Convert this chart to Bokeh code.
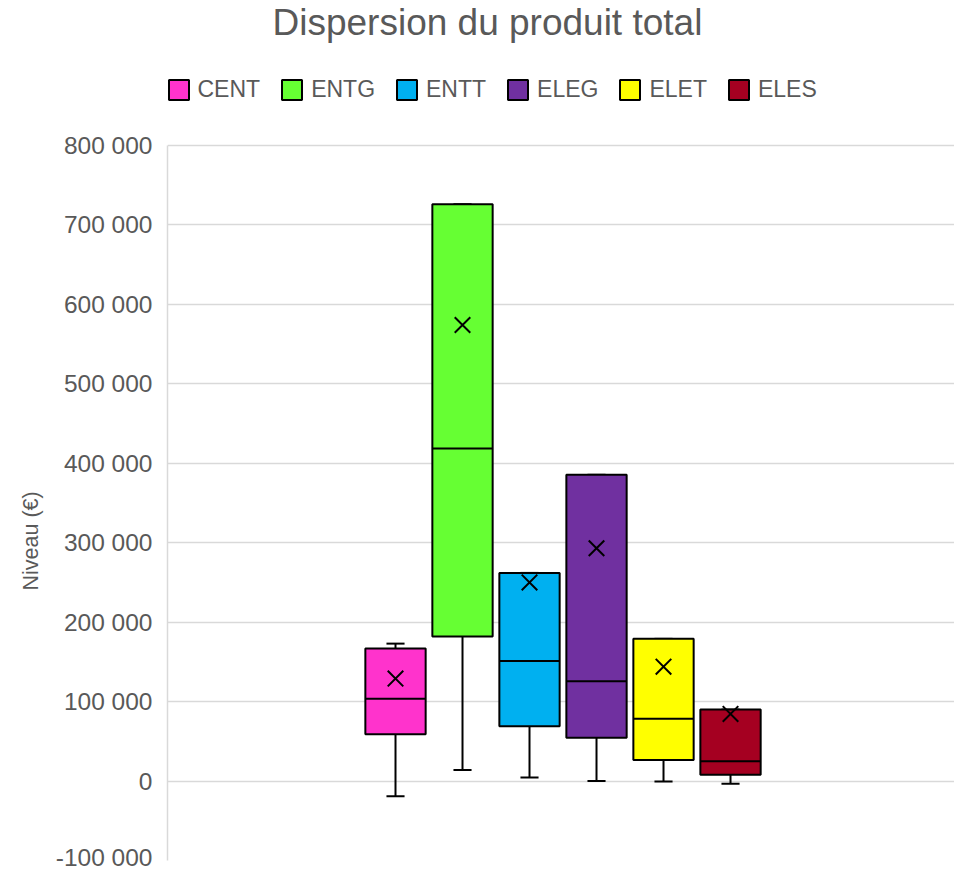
from bokeh.plotting import figure
from bokeh.models import (ColumnDataSource, Legend, LegendItem, Range1d, FixedTicker,
                          Label, Title)
from bokeh.transform import dodge
from bokeh.embed import file_html
from bokeh.resources import INLINE

categories = ["CENT", "ENTG", "ENTT", "ELEG", "ELET", "ELES"]
colors = ["#FF33CC", "#66FF33", "#00B0F0", "#7030A0", "#FFFF00", "#A50021"]
q1 = [59000, 182000, 69000, 54500, 26500, 8000]
median = [103500, 418500, 151000, 125500, 78500, 25000]
q3 = [167000, 726000, 262000, 385500, 179000, 90000]
lower = [-19000, 14000, 4500, 0, -500, -3500]
upper = [173000, 726000, 262000, 385500, 179000, 90000]
mean = [129000, 574000, 250000, 293000, 144000, 84500]

y_ticks = [-100000, 0, 100000, 200000, 300000, 400000, 500000, 600000, 700000, 800000]
y_tick_labels = ["-100 000", "0", "100 000", "200 000", "300 000", "400 000",
                 "500 000", "600 000", "700 000", "800 000"]

FONT = "Liberation Sans"
GREY = "#595959"

# layout: frame spans the full height above the bottom border; the value axis
# occupies the lower 715 px (from y=145 to y=860 on the page)
H, BOTTOM, AXIS_TOP = 870, 10, 145
axis_px = H - BOTTOM - AXIS_TOP
y_lo, y_hi = y_ticks[0], y_ticks[-1]
y_top = y_hi + AXIS_TOP * (y_hi - y_lo) / axis_px

xs = list(range(len(categories)))
src = ColumnDataSource(dict(x=xs, cat=categories, q1=q1, med=median, q3=q3,
                            lo=lower, hi=upper, mean=mean, color=colors))

p = figure(width=954, height=H, output_backend="svg", toolbar_location=None,
           title=None,
           x_range=Range1d(-3.403, 8.343), y_range=Range1d(y_lo, y_top),
           min_border_left=167, min_border_right=0, min_border_bottom=BOTTOM,
           min_border_top=0)

LW = 2
# whiskers
p.segment(x0="x", x1="x", y0="lo", y1="q1", source=src, line_color="black", line_width=LW)
p.segment(x0="x", x1="x", y0="q3", y1="hi", source=src, line_color="black", line_width=LW)
cap = 0.135
p.segment(x0=dodge("x", -cap), x1=dodge("x", cap), y0="lo", y1="lo", source=src,
          line_color="black", line_width=LW)
p.segment(x0=dodge("x", -cap), x1=dodge("x", cap), y0="hi", y1="hi", source=src,
          line_color="black", line_width=LW)

items = []
for i, cat in enumerate(categories):
    sub = ColumnDataSource(dict(x=[xs[i]], q1=[q1[i]], q3=[q3[i]]))
    r = p.vbar(x="x", width=0.9, bottom="q1", top="q3", source=sub,
               fill_color=colors[i], line_color="black", line_width=LW)
    items.append(LegendItem(label=cat, renderers=[r]))

p.segment(x0=dodge("x", -0.45), x1=dodge("x", 0.45), y0="med", y1="med", source=src,
          line_color="black", line_width=LW)
p.scatter(x="x", y="mean", source=src, marker="x", size=22, line_color="black",
          line_width=2)

legend = Legend(items=items, orientation="horizontal", location=(-1.5, 757),
                glyph_width=25, glyph_height=25, label_standoff=7, spacing=19,
                padding=0, margin=0, border_line_color=None, background_fill_alpha=0,
                label_text_font=FONT, label_text_font_size="23px", label_text_color=GREY)
p.add_layout(legend, "center")

title = Label(x=105, y=838, x_units="screen", y_units="screen",
              text="Dispersion du produit total", text_baseline="middle",
              text_font=FONT, text_font_size="37px", text_color=GREY)
p.add_layout(title)

p.xaxis.visible = False
p.xgrid.visible = False
p.outline_line_color = None

p.yaxis.ticker = FixedTicker(ticks=y_ticks)
p.yaxis.bounds = (y_lo, y_hi)
p.yaxis.major_label_overrides = {t: l for t, l in zip(y_ticks, y_tick_labels)}
p.yaxis.major_tick_line_color = None
p.yaxis.minor_tick_line_color = None
p.yaxis.major_tick_out = 0
p.yaxis.axis_line_color = "#d9d9d9"
p.yaxis.axis_line_width = 1.5
p.yaxis.major_label_text_font = FONT
p.yaxis.major_label_text_font_size = "24.5px"
p.yaxis.major_label_text_color = GREY
p.yaxis.major_label_standoff = 15

ytitle = Title(text="Niveau (€)", align="left", offset=270, standoff=20,
               text_font=FONT, text_font_size="21.5px", text_font_style="normal",
               text_color=GREY)
p.add_layout(ytitle, "left")

p.ygrid.grid_line_color = "#d9d9d9"
p.ygrid.grid_line_width = 1.5
p.ygrid.ticker = FixedTicker(ticks=y_ticks)

open("out.html", "w").write(file_html(p, INLINE))
